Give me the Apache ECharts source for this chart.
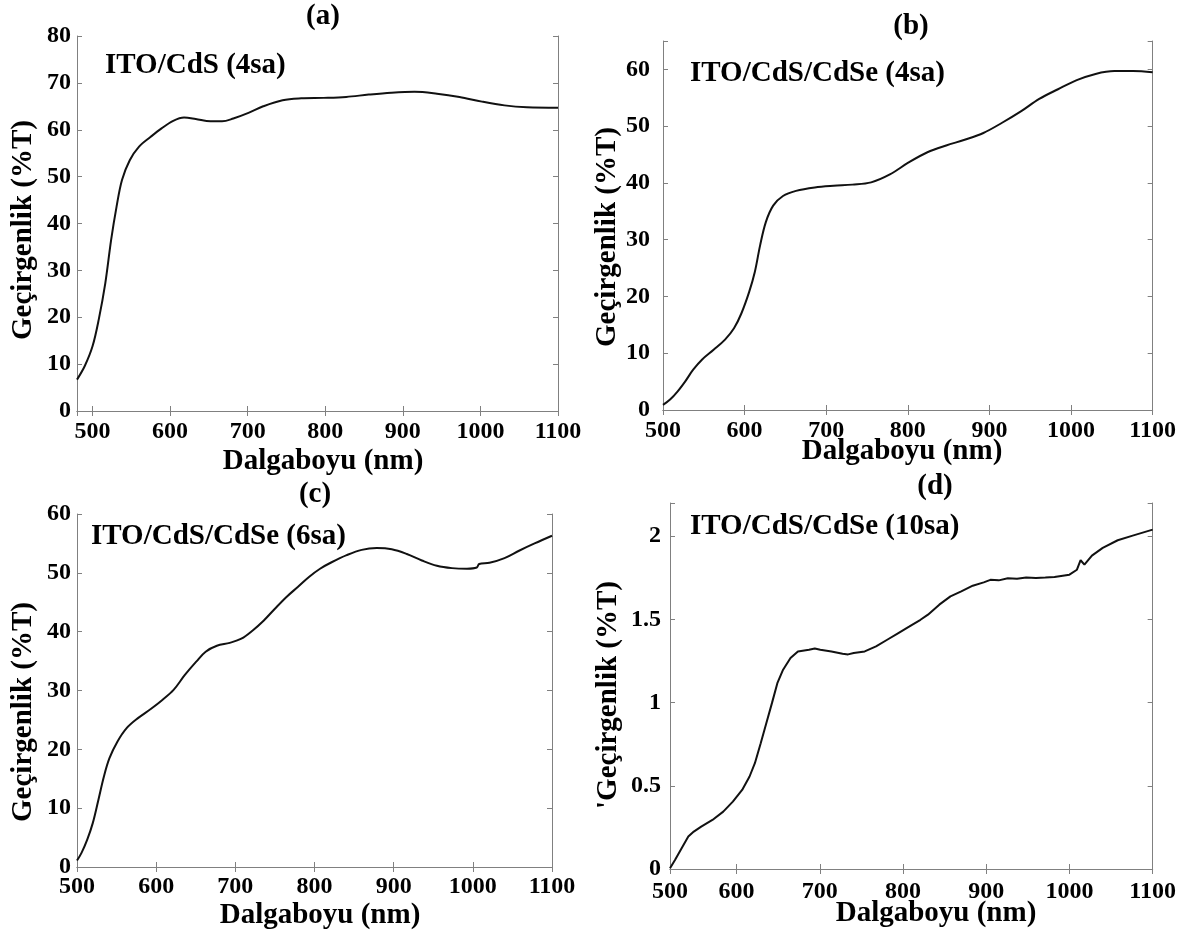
<!DOCTYPE html>
<html><head><meta charset="utf-8">
<script src="https://cdn.jsdelivr.net/npm/echarts@6/dist/echarts.min.js"></script>
<style>html,body{margin:0;padding:0;background:#fff}#c{width:1179px;height:936px}</style>
</head><body><div id="c"></div>
<script>
// ---- Data ----
const wlA = [480,490,500,508,516.5,524,531,538,548,560,575,589,604,618,633,652,667,681.5,701,720,745,769,798,827,856,885,915,944,973,1002,1031,1060,1100];
const tA  = [6.7,9.6,13.8,19.5,27.3,36.5,43.6,49.3,53.5,56.4,58.5,60.3,61.9,62.6,62.3,61.8,61.8,62.4,63.6,65.0,66.3,66.7,66.8,67.0,67.5,67.9,68.1,67.7,67.0,66.0,65.2,64.8,64.7];

const wlB = [500,509,518,527.5,537,548,562,576,587,596,605.6,612.5,619,626,635,647,663,686,709,732,755,778,801,824,847,869.6,892.6,915.5,938.5,961,984,1007,1030,1053,1076,1100];
const tB  = [0.9,1.9,3.3,5.1,7.1,8.9,10.6,12.4,14.4,17.0,20.8,24.3,29.0,33.1,36.0,37.7,38.6,39.2,39.5,39.7,40.1,41.5,43.6,45.4,46.6,47.6,48.8,50.6,52.6,54.8,56.5,58.1,59.2,59.7,59.7,59.5];

const wlC = [500,505.7,512.8,520,527,534,541,551,562.7,577,593.6,607.8,622,636,650.6,662.5,676.7,693,707.6,721.9,736,750,764.6,778.9,793,807,821.6,840.6,859.6,878.6,897.6,916.6,935.6,954.6,973.6,992.6,1005,1008,1021,1040,1059,1078,1100];
const tC  = [1.1,2.4,4.6,7.5,11.4,15.4,18.5,21.3,23.6,25.3,26.9,28.4,30.1,32.6,34.9,36.6,37.6,38.1,38.8,40.2,41.9,43.9,45.9,47.6,49.3,50.7,51.8,53.0,53.9,54.2,54.0,53.2,52.1,51.2,50.8,50.7,50.9,51.5,51.7,52.5,53.8,55.0,56.3];

const wlD = [520,526,535,542,548.6,557.5,571,584,595.5,606.7,615.6,622,629,635.8,642.5,649,655.9,664.8,673.7,687,694,700.6,714,727.4,734,740.8,754,767.6,781,794.4,807.8,821,830,843.6,857,870,883.8,897,905,915,926,937,948,959.8,971,982,1000,1009,1013.4,1018,1027,1040,1058,1076,1100];
const tD  = [0.004,0.054,0.134,0.195,0.225,0.255,0.295,0.345,0.405,0.475,0.556,0.636,0.756,0.877,0.997,1.117,1.198,1.268,1.308,1.318,1.325,1.318,1.308,1.294,1.29,1.298,1.308,1.338,1.378,1.418,1.458,1.498,1.529,1.589,1.639,1.669,1.703,1.723,1.738,1.735,1.748,1.745,1.752,1.749,1.752,1.755,1.769,1.799,1.856,1.829,1.884,1.93,1.976,2.004,2.04];

const xTicks = [500,600,700,800,900,1000,1100];
const yTicksA = [0,10,20,30,40,50,60,70,80];
const yTicksB = [0,10,20,30,40,50,60];
const yTicksC = [0,10,20,30,40,50,60];
const yTicksD = [0,0.5,1,1.5,2];

const panelTitles = ['(a)','(b)','(c)','(d)'];
const sampleNames = ['ITO/CdS (4sa)','ITO/CdS/CdSe (4sa)','ITO/CdS/CdSe (6sa)','ITO/CdS/CdSe (10sa)'];
const xName = 'Dalgaboyu (nm)';
const yNames = ['Geçirgenlik (%T)','Geçirgenlik (%T)','Geçirgenlik (%T)',"'Geçirgenlik (%T)"];

// ---- Chart ----
const FONT = '"Liberation Serif","Times New Roman",serif';
const AX = '#808080';
const grids = [
  {left:77, top:36, width:481, height:375},
  {left:663, top:41, width:491, height:369},
  {left:77, top:514, width:475, height:353},
  {left:670, top:503, width:488, height:366}
];
const xRanges = [[480,1100],[500,1100],[500,1100],[520,1100]];
const yRanges = [[0,80,10],[0,65,10],[0,60,10],[0,2.2,0.5]];
const yTickSets = [yTicksA,yTicksB,yTicksC,yTicksD];
const yLabelMargin = [6,13,6,9];
const xLabelMargin = [9,9,8,11];
const wls = [wlA,wlB,wlC,wlD], ts = [tA,tB,tC,tD];

const xAxes = [], yAxes = [], series = [];
grids.forEach((g,i)=>{
  const base = {
    type:'value', gridIndex:i, min:xRanges[i][0], max:xRanges[i][1],
    minInterval:100, maxInterval:100,
    axisLine:{show:true, lineStyle:{color:AX,width:1}},
    axisTick:{show:true, inside:true, length:5, lineStyle:{color:AX,width:1}},
    splitLine:{show:false}
  };
  xAxes.push(Object.assign({}, base, {
    position:'bottom',
    axisLabel:{show:true, showMinLabel:true, showMaxLabel:true, margin:xLabelMargin[i], color:'#000', fontFamily:FONT, fontWeight:'bold', fontSize:24,
      formatter:(v)=>{ if(i===3 && v===xRanges[3][0]) return String(xTicks[0]); return xTicks.includes(v)?String(v):''; }}
  }));
  xAxes.push(Object.assign({}, base, {position:'top', axisLabel:{show:false}}));
  const yb = {
    type:'value', gridIndex:i, min:yRanges[i][0], max:yRanges[i][1], interval:yRanges[i][2],
    axisLine:{show:true, lineStyle:{color:AX,width:1}},
    axisTick:{show:true, inside:true, length:5, lineStyle:{color:AX,width:1}},
    splitLine:{show:false}
  };
  yAxes.push(Object.assign({}, yb, {
    position:'left',
    axisLabel:{show:true, showMaxLabel:true, margin:yLabelMargin[i], color:'#000', fontFamily:FONT, fontWeight:'bold', fontSize:24,
      formatter:(v)=> yTickSets[i].some(t=>Math.abs(t-v)<1e-9) ? String(v) : ''}
  }));
  yAxes.push(Object.assign({}, yb, {position:'right', axisLabel:{show:false}}));
  series.push({
    type:'line', xAxisIndex:2*i, yAxisIndex:2*i, showSymbol:false, symbol:'none',
    smooth: i===3 ? false : 0.35,
    lineStyle:{color:'#111', width:2}, silent:true, animation:false,
    data: wls[i].map((w,k)=>[w, ts[i][k]])
  });
});

function txt(text, x, y, opts){
  opts = opts || {};
  return {type:'text', x:x, y:y, rotation:opts.rot||0, silent:true,
    style:{text:text, fill:'#000', font:'bold '+(opts.size||29)+'px '+FONT,
      textAlign:opts.align||'center', align:opts.align||'center',
      textVerticalAlign:'middle', verticalAlign:'middle'}};
}
const titlePos = [[323,17],[911,27],[315,495],[935,487]];
const annPos = [[105,66],[690,74],[91,537],[690,527]];
const xNamePos = [[323,462],[902,452],[320,916],[936,914]];
const yNamePos = [[24,230],[608,237],[24,712],[609,695]];
const graphic = [];
for(let i=0;i<4;i++){
  graphic.push(txt(panelTitles[i], titlePos[i][0], titlePos[i][1]));
  graphic.push(txt(sampleNames[i], annPos[i][0], annPos[i][1], {align:'left'}));
  graphic.push(txt(xName, xNamePos[i][0], xNamePos[i][1]));
  graphic.push(txt(yNames[i], yNamePos[i][0], yNamePos[i][1], {rot:Math.PI/2}));
}

const chart = echarts.init(document.getElementById('c'), null, {renderer:'canvas'});
chart.setOption({
  backgroundColor:'#fff', animation:false,
  grid: grids.map(g=>Object.assign({containLabel:false}, g)),
  xAxis:xAxes, yAxis:yAxes, series:series, graphic:graphic
});
</script></body></html>
